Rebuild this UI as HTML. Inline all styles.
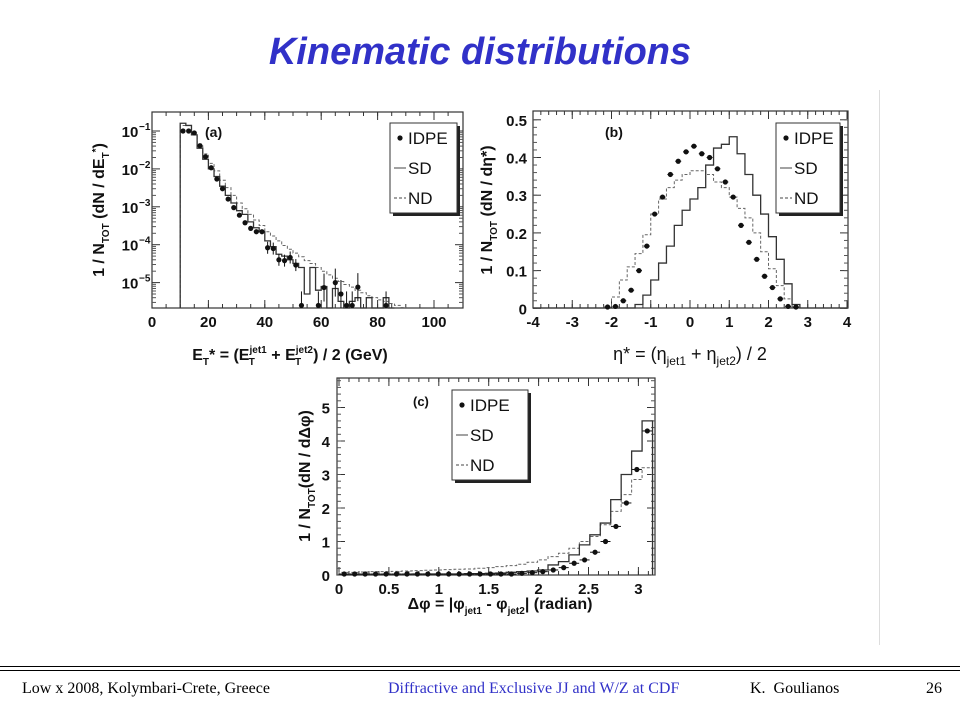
<!DOCTYPE html>
<html><head><meta charset="utf-8"><style>
html,body{margin:0;padding:0;background:#fff;}
body{width:960px;height:720px;position:relative;overflow:hidden;font-family:"Liberation Sans",sans-serif;}
.title{position:absolute;left:0;width:960px;top:31px;text-align:center;font:bold italic 38px "Liberation Sans",sans-serif;color:#3131c8;}
.foot{position:absolute;top:680px;font:16px "Liberation Serif",serif;color:#000;}
</style></head><body>
<div class="title">Kinematic distributions</div>
<svg id="chart" width="960" height="720" style="position:absolute;left:0;top:0"></svg>
<div style="position:absolute;left:879px;top:90px;width:1px;height:555px;background:#ddd"></div>
<div style="position:absolute;left:0;top:666px;width:960px;height:1px;background:#000"></div>
<div style="position:absolute;left:0;top:670px;width:960px;height:1px;background:#000"></div>
<div class="foot" style="left:22px">Low x 2008, Kolymbari-Crete, Greece</div>
<div class="foot" style="left:388px;color:#3131c8">Diffractive and Exclusive JJ and W/Z at CDF</div>
<div class="foot" style="left:750px">K.&nbsp; Goulianos</div>
<div class="foot" style="left:926px">26</div>
<script>
// ---------- Panel (a) data ----------
const aTicksX = [0,20,40,60,80,100];
const aTicksYExp = [-1,-2,-3,-4,-5];
const aIdpeX = [11,13,15,17,19,21,23,25,27,29,31,33,35,37,39,41,43,45,47,49,51,53,59,61,65,67,69,71,73,83];
const aIdpeY = [0.1,0.1,0.089,0.041,0.021,0.0107,0.0054,0.003,0.0016,0.00095,0.0006,0.00038,0.00027,0.00022,0.00022,8.3e-5,7.9e-5,4e-5,3.8e-5,4.6e-5,2.9e-5,2.5e-6,2.5e-6,7.4e-6,1.0e-5,5e-6,2.5e-6,2.5e-6,7.6e-6,2.5e-6];
const aSD = [0.16,0.14,0.079,0.035,0.018,0.01,0.0063,0.0035,0.002,0.00126,7.9e-4,6.3e-4,4e-4,2.8e-4,2.2e-4,1.26e-4,8.9e-5,5.6e-5,5e-5,4e-5,3.2e-5,2.5e-5,5e-6,2.5e-5,6.3e-6,7.9e-6,2e-6,7e-6,3.2e-6,2e-6,3.2e-6,4e-6,2e-6,4e-6,2e-6,2e-6,4e-6,2e-6];
const aND = [0.14,0.14,0.079,0.045,0.025,0.014,0.0089,0.005,0.0032,0.002,0.00126,8.9e-4,6.3e-4,4.5e-4,3.2e-4,2.2e-4,1.7e-4,1.26e-4,9.5e-5,7.6e-5,6e-5,4.8e-5,3.8e-5,3.2e-5,2.5e-5,2e-5,1.6e-5,1.3e-5,1.07e-5,8.9e-6,7.6e-6,6.3e-6,5.4e-6,4.5e-6,4e-6,3.5e-6,3.2e-6,2.8e-6,2.5e-6,2.2e-6];
// ---------- Panel (b) data ----------
const bTicksX = [-4,-3,-2,-1,0,1,2,3,4];
const bTicksY = [0,0.1,0.2,0.3,0.4,0.5];
const bIdpeX = [-2.1,-1.9,-1.7,-1.5,-1.3,-1.1,-0.9,-0.7,-0.5,-0.3,-0.1,0.1,0.3,0.5,0.7,0.9,1.1,1.3,1.5,1.7,1.9,2.1,2.3,2.5,2.7];
const bIdpeY = [0,0.005,0.02,0.048,0.1,0.165,0.25,0.295,0.355,0.39,0.415,0.43,0.41,0.4,0.37,0.335,0.295,0.22,0.175,0.13,0.085,0.055,0.025,0.005,0];
const bSD = [0,0,0,0,0,0,0,0,0,0,0,0,0,0.01,0.035,0.075,0.12,0.165,0.22,0.26,0.29,0.32,0.38,0.425,0.435,0.455,0.41,0.355,0.3,0.25,0.19,0.13,0.065,0.01,0,0,0,0,0,0];
const bND = [0,0,0,0,0,0,0,0,0,0.005,0.03,0.075,0.11,0.145,0.195,0.25,0.29,0.32,0.34,0.355,0.365,0.365,0.355,0.335,0.32,0.295,0.265,0.24,0.2,0.15,0.105,0.06,0.025,0.005,0,0,0,0,0,0];
// ---------- Panel (c) data ----------
const cTicksX = [0,0.5,1,1.5,2,2.5,3];
const cTicksY = [0,1,2,3,4,5];
const cIdpe = [0,0,0,0,0,0,0,0,0,0,0,0,0.01,0.01,0.02,0.03,0.03,0.05,0.07,0.1,0.15,0.22,0.35,0.45,0.68,1.0,1.45,2.15,3.15,4.3,5.45].slice(0,30);
const cSD = [0.02,0.02,0.02,0.02,0.02,0.02,0.02,0.03,0.03,0.03,0.03,0.03,0.04,0.04,0.05,0.06,0.08,0.1,0.12,0.15,0.3,0.4,0.6,0.9,1.2,1.55,2.25,3.0,3.7,4.6];
const cND = [0.08,0.08,0.09,0.1,0.1,0.11,0.12,0.13,0.14,0.15,0.16,0.17,0.18,0.2,0.22,0.25,0.28,0.32,0.38,0.45,0.55,0.65,0.8,1.0,1.15,1.5,1.9,2.4,2.85,3.2];

const NS='http://www.w3.org/2000/svg';
const svg=document.getElementById('chart');
function mk(tag,attrs,parent){const e=document.createElementNS(NS,tag);for(const k in attrs)e.setAttribute(k,attrs[k]);(parent||svg).appendChild(e);return e;}
function txt(x,y,s,size,anchor,parent,extra){const t=mk('text',Object.assign({x:x,y:y,'font-family':'Liberation Sans, sans-serif','font-weight':'bold','font-size':size,'text-anchor':anchor||'middle',fill:'#111'},extra||{}),parent);t.textContent=s;return t;}

function frame(g,x0,y0,x1,y1){
  const r=mk('rect',{x:x0,y:y0,width:x1-x0,height:y1-y0,fill:'none',stroke:'#333','stroke-width':1.2},g);
  
  
}
function stepPath(g,edges0,w,vals,sx,sy,dash,name,floorY){
  let d='';let prev=null;
  vals.forEach((v,i)=>{const xa=sx(edges0+i*w),xb=sx(edges0+(i+1)*w);let y=sy(v);if(y>floorY)y=floorY;
    d+=(i===0?('M'+xa+' '+floorY+' L'+xa+' '+y):(' L'+xa+' '+y))+' L'+xb+' '+y;prev=xb;});
  d+=' L'+prev+' '+floorY;
  const p=mk('path',{d:d,fill:'none',stroke:dash?'#666':'#333','stroke-width':dash?1:1.3,'stroke-dasharray':dash?'3,2':'none'},g);
  
  
}
function points(g,xs,ys,sx,sy,floorY,name,hw,err){
  xs.forEach((xv,i)=>{let y=sy(ys[i]);if(y>floorY-1)y=floorY-1;const x=sx(xv);
    const c=mk('circle',{cx:x,cy:y,r:2.6,fill:'#111'},g);
    
    
    if(hw)mk('line',{x1:x-hw,x2:x+hw,y1:y,y2:y,stroke:'#111','stroke-width':1},g);
    if(err&&err(xv))mk('line',{x1:x,x2:x,y1:y-err(xv),y2:Math.min(y+err(xv),floorY),stroke:'#111','stroke-width':1},g);
  });
}
function legend(g,x,y,w,h){
  mk('rect',{x:x+3,y:y+3,width:w,height:h,fill:'#222'},g);
  const r=mk('rect',{x:x,y:y,width:w,height:h,fill:'#fff',stroke:'#333','stroke-width':1},g);
  
  
  const rows=[['IDPE','dot'],['SD','solid'],['ND','dash']];
  rows.forEach((r2,i)=>{const cy=y+h*(i+0.5)/3;
    if(r2[1]==='dot')mk('circle',{cx:x+10,cy:cy,r:2.6,fill:'#111'},g);
    else mk('line',{x1:x+4,x2:x+16,y1:cy,y2:cy,stroke:'#444','stroke-dasharray':r2[1]==='dash'?'3,2':'none'},g);
    const t=txt(x+18,cy+6,r2[0],17,'start',g,{'font-weight':'normal'});
    
    
  });
}
function ticksX(g,vals,sx,yb,yt,lab,minor,minorVals){
  vals.forEach(v=>{const x=sx(v);mk('line',{x1:x,x2:x,y1:yb,y2:yb-8,stroke:'#333'},g);mk('line',{x1:x,x2:x,y1:yt,y2:yt+8,stroke:'#333'},g);
    const t=txt(x,yb+19,String(v),15,'middle',g);
    
    });
  (minorVals||[]).forEach(v=>{const x=sx(v);mk('line',{x1:x,x2:x,y1:yb,y2:yb-4,stroke:'#333'},g);mk('line',{x1:x,x2:x,y1:yt,y2:yt+4,stroke:'#333'},g);});
}
function range(a,b,s){const r=[];for(let v=a;v<=b+1e-9;v+=s)r.push(+v.toFixed(4));return r;}

// ===== Panel A =====
(function(){
  const g=mk('g',{});
  const X0=152,X1=463,Y0=112,Y1=308;
  const sx=v=>X0+v*2.82;
  const sy=v=>131-(Math.log10(v)+1)*37.9;
  frame(g,X0,Y0,X1,Y1);
  ticksX(g,aTicksX,sx,Y1,Y0,true,0,range(0,108,5));
  aTicksYExp.forEach(e=>{const y=sy(Math.pow(10,e));mk('line',{x1:X0,x2:X0+8,y1:y,y2:y,stroke:'#333'},g);mk('line',{x1:X1,x2:X1-8,y1:y,y2:y,stroke:'#333'},g);
    for(let k=2;k<10;k++){const ym=sy(k*Math.pow(10,e-1));if(ym>Y0&&ym<Y1){mk('line',{x1:X0,x2:X0+4,y1:ym,y2:ym,stroke:'#555'},g);mk('line',{x1:X1,x2:X1-4,y1:ym,y2:ym,stroke:'#555'},g);}}
    const t=txt(130,y+6,'10',15,'middle',g);
    txt(139,y-1,'\u2212'+String(-e),10,'start',g);});
  stepPath(g,10,2,aND,sx,sy,true,'nd-histogram',Y1);
  stepPath(g,10,2,aSD,sx,sy,false,'sd-histogram',Y1);
  points(g,aIdpeX,aIdpeY,sx,sy,Y1,'idpe-point',0,v=>v>=40?(v>=52?14:6):0);
  legend(g,390,123,67,90);
  const l=txt(205,137,'(a)',14,'start',g);
  const yl=txt(0,0,'1 / N',16,'middle',g,{transform:'translate(104,210) rotate(-90)'});
  yl.innerHTML='1 / N<tspan font-size="10" dy="5">TOT</tspan><tspan dy="-5"> (dN / dE</tspan><tspan font-size="10" dy="5">T</tspan><tspan font-size="10" dy="-10">*</tspan><tspan dy="5">)</tspan>';
  
  const xl=txt(290,360,'',16,'middle',g);
  xl.innerHTML='E<tspan font-size="10" dy="5">T</tspan><tspan dy="-5">* = (E</tspan><tspan font-size="10" dy="-7">jet1</tspan><tspan font-size="10" dx="-18" dy="12">T</tspan><tspan dy="-5" dx="12"> + E</tspan><tspan font-size="10" dy="-7">jet2</tspan><tspan font-size="10" dx="-18" dy="12">T</tspan><tspan dy="-5" dx="12">) / 2 (GeV)</tspan>';
  
})();

// ===== Panel B =====
(function(){
  const g=mk('g',{});
  const X0=533,X1=848,Y0=111,Y1=308;
  const sx=v=>X0+(v+4)*39.25;
  const sy=v=>308.3-v*377;
  frame(g,X0,Y0,X1,Y1);
  ticksX(g,bTicksX,sx,Y1,Y0,true,0,range(-4,4,0.2));
  bTicksY.forEach(v=>{const y=sy(v);mk('line',{x1:X0,x2:X0+8,y1:y,y2:y,stroke:'#333'},g);mk('line',{x1:X1,x2:X1-8,y1:y,y2:y,stroke:'#333'},g);
    const t=txt(527,y+6,String(v),15,'end',g);});
  range(0,0.5,0.02).forEach(v=>{const y=sy(v);mk('line',{x1:X0,x2:X0+4,y1:y,y2:y,stroke:'#555'},g);mk('line',{x1:X1,x2:X1-4,y1:y,y2:y,stroke:'#555'},g);});
  stepPath(g,-4,0.2,bND,sx,sy,true,'nd-histogram',Y1);
  stepPath(g,-4,0.2,bSD,sx,sy,false,'sd-histogram',Y1);
  points(g,bIdpeX,bIdpeY,sx,sy,Y1,'idpe-point',3,null);
  legend(g,776,123,64,90);
  const l=txt(605,137,'(b)',14,'start',g);
  const yl=txt(0,0,'',16,'middle',g,{transform:'translate(492,210) rotate(-90)'});
  yl.innerHTML='1 / N<tspan font-size="10" dy="5">TOT</tspan><tspan dy="-5"> (dN / d&#951;*)</tspan>';
  
  const xl=txt(690,360,'',18,'middle',g,{'font-weight':'normal'});
  xl.innerHTML='&#951;* = (&#951;<tspan font-size="12" dy="5">jet1</tspan><tspan dy="-5"> + &#951;</tspan><tspan font-size="12" dy="5">jet2</tspan><tspan dy="-5">) / 2</tspan>';
  
})();

// ===== Panel C =====
(function(){
  const g=mk('g',{});
  const X0=337,X1=655,Y0=378,Y1=575;
  const sx=v=>339+v*99.8;
  const sy=v=>575-v*33.5;
  frame(g,X0,Y0,X1,Y1);
  ticksX(g,cTicksX,sx,Y1,Y0,true,0,range(0,3.1,0.1));
  cTicksY.forEach(v=>{const y=sy(v);mk('line',{x1:X0,x2:X0+8,y1:y,y2:y,stroke:'#333'},g);mk('line',{x1:X1,x2:X1-8,y1:y,y2:y,stroke:'#333'},g);
    const t=txt(330,y+6,String(v),15,'end',g);});
  range(0,5.8,0.2).forEach(v=>{const y=sy(v);mk('line',{x1:X0,x2:X0+4,y1:y,y2:y,stroke:'#555'},g);mk('line',{x1:X1,x2:X1-4,y1:y,y2:y,stroke:'#555'},g);});
  const w=Math.PI/30;
  stepPath(g,0,w,cND,sx,sy,true,'nd-histogram',Y1);
  stepPath(g,0,w,cSD,sx,sy,false,'sd-histogram',Y1);
  points(g,cIdpe.map((_,i)=>(i+0.5)*w),cIdpe,sx,sy,Y1,'idpe-point',5,null);
  legend(g,452,390,76,90);
  const l=txt(413,406,'(c)',13,'start',g);
  const yl=txt(0,0,'',16,'middle',g,{transform:'translate(310,476) rotate(-90)'});
  yl.innerHTML='1 / N<tspan font-size="10" dy="5">TOT</tspan><tspan dy="-5">(dN / d&#916;&#966;)</tspan>';
  
  const xl=txt(500,609,'',16,'middle',g);
  xl.innerHTML='&#916;&#966; = |&#966;<tspan font-size="10" dy="5">jet1</tspan><tspan dy="-5"> - &#966;</tspan><tspan font-size="10" dy="5">jet2</tspan><tspan dy="-5">| (radian)</tspan>';
  
})();
</script>
</body></html>
